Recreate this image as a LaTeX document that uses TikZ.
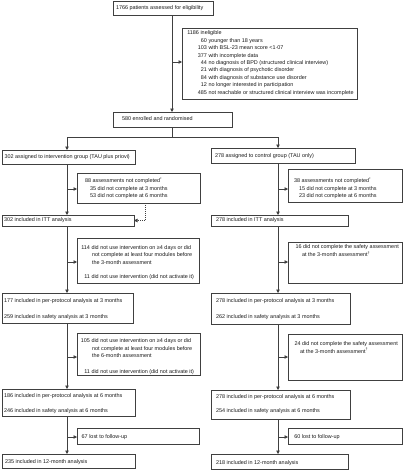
\documentclass[tikz,border=0pt]{standalone}
\usepackage{fontspec}
\setmainfont{Liberation Sans}
\usetikzlibrary{arrows.meta}
\newcommand\flowbox[6]{\node[fbox] (#1) at (#2,#3) {\parbox[c][\dimexpr #5pt-#3pt\relax][t]{\dimexpr #4pt-#2pt\relax}{\raggedright #6}};}
\newcommand\tp[1]{\rule{0pt}{#1pt}}
\newcommand\ind[1]{\hspace*{#1pt}}
\newcommand\num[2]{\makebox[#1pt][r]{#2}}
\begin{document}
\begin{tikzpicture}[x=1pt,y=-1pt,
  fbox/.style={draw=black!75, line width=0.7pt, anchor=north west, inner sep=0pt, outer sep=0pt,
    font=\fontsize{5.45pt}{7.4pt}\selectfont, text=black!90},
  ln/.style={draw=black!75, line width=0.7pt},
  arr/.style={ln, -{Triangle[length=3.5pt,width=3.5pt]}},
  dotarr/.style={arr, dash pattern=on 1pt off 1pt}]
\useasboundingbox (0,0) rectangle (403,471);

\flowbox{elig}{113}{1.5}{213}{15}{\tp{8.4}\ind{3}1766 patients assessed for eligibility}
\flowbox{inel}{182}{28}{357}{99}{\tp{6.9}\ind{5.3}1186 ineligible\\
\num{25}{60} younger than 18 years\\
\num{25}{103} with BSL-23 mean score <1·07\\
\num{25}{377} with incomplete data\\
\num{25}{44} no diagnosis of BPD (structured clinical interview)\\
\num{25}{21} with diagnosis of psychotic disorder\\
\num{25}{84} with diagnosis of substance use disorder\\
\num{25}{12} no longer interested in participation\\
\num{25}{485} not reachable or structured clinical interview was incomplete}
\flowbox{enr}{113}{112}{232}{127}{\tp{8.6}\ind{9}580 enrolled and randomised}
\flowbox{int}{2}{150}{135}{164}{\tp{8.3}\ind{2.5}302 assigned to intervention group (TAU plus priovi)}
\flowbox{ctl}{211}{148}{355}{163}{\tp{9.6}\ind{4}278 assigned to control group (TAU only)}
\flowbox{a88}{77}{173}{200}{203}{\tp{9.6}\ind{8}88 assessments not completed\textsuperscript{*}\\
\ind{13}35 did not complete at 3 months\\
\ind{13}53 did not complete at 6 months}
\flowbox{a38}{288}{169}{402}{202}{\tp{13.6}\ind{6}38 assessments not completed\textsuperscript{*}\\
\ind{11}15 did not complete at 3 months\\
\ind{11}23 did not complete at 6 months}
\flowbox{ittL}{2}{215}{134}{226}{\tp{6.9}\ind{2}302 included in ITT analysis}
\flowbox{ittR}{211}{215}{348}{226}{\tp{6.6}\ind{5}278 included in ITT analysis}
\flowbox{b114}{77}{238}{199}{283}{\tp{11.3}\ind{4}\num{9}{114} did not use intervention on ≥4 days or did\\
\ind{15}not complete at least four modules before\\
\ind{15}the 3-month assessment\\[7.4pt]
\ind{4}\num{9}{11} did not use intervention (did not activate it)}
\flowbox{b16}{288}{242}{402}{283}{\tp{6.9}\ind{7.5}16 did not complete the safety assessment\\
\ind{14}at the 3-month assessment\textsuperscript{†}}
\flowbox{pp3L}{2}{293}{133}{323}{\tp{9.3}\ind{2}177 included in per-protocol analysis at 3 months\\[9.2pt]
\ind{2}259 included in safety analysis at 3 months}
\flowbox{pp3R}{211}{293}{350}{324}{\tp{9.3}\ind{5}278 included in per-protocol analysis at 3 months\\[9.2pt]
\ind{5}262 included in safety analysis at 3 months}
\flowbox{b105}{77}{333}{200}{375}{\tp{9.3}\ind{4}\num{9}{105} did not use intervention on ≥4 days or did\\[0.4pt]
\ind{15}not complete at least four modules before\\[0.4pt]
\ind{15}the 6-month assessment\\[7.8pt]
\ind{4}\num{9}{11} did not use intervention (did not activate it)}
\flowbox{b24}{288}{334}{402}{380}{\tp{11.6}\ind{6.5}24 did not complete the safety assessment\\
\ind{12}at the 3-month assessment\textsuperscript{†}}
\flowbox{pp6L}{2}{389}{135}{416}{\tp{8.6}\ind{2}186 included in per-protocol analysis at 6 months\\[7.6pt]
\ind{2}246 included in safety analysis at 6 months}
\flowbox{pp6R}{211}{390}{350}{419}{\tp{8.3}\ind{5}278 included in per-protocol analysis at 6 months\\[6.9pt]
\ind{5}254 included in safety analysis at 6 months}
\flowbox{l67}{77}{428}{199}{444}{\tp{10.9}\ind{4.7}67 lost to follow-up}
\flowbox{l60}{288}{428}{402}{444}{\tp{10.6}\ind{6.3}60 lost to follow-up}
\flowbox{f12L}{2}{454}{135}{468}{\tp{9.9}\ind{3}235 included in 12-month analysis}
\flowbox{f12R}{211}{454}{348}{469}{\tp{10.3}\ind{5}218 included in 12-month analysis}

\coordinate (colM) at (172,0);
\coordinate (colL) at (67,0);
\coordinate (colR) at (278,0);
\coordinate (colD) at (145,0);
\coordinate (split) at (172,137);
\coordinate (jInel) at (172,62);
\coordinate (jL1) at (67,189);
\coordinate (jL2) at (67,262);
\coordinate (jL3) at (67,357);
\coordinate (jL4) at (67,437);
\coordinate (jR1) at (278,189);
\coordinate (jR2) at (278,262);
\coordinate (jR3) at (278,357);
\coordinate (jR4) at (278,437);

\draw[arr] (elig.south -| colM) -- (enr.north -| colM);
\draw[arr] (jInel) -- (jInel -| inel.west);
\draw[ln] (enr.south -| colM) -- (split);
\draw[arr] (split) -| (int.north -| colL);
\draw[arr] (split) -| (ctl.north -| colR);

\draw[arr] (int.south -| colL) -- (ittL.north -| colL);
\draw[arr] (jL1) -- (jL1 -| a88.west);
\draw[dotarr] (a88.south -| colD) |- (ittL.east);
\draw[arr] (ittL.south -| colL) -- (pp3L.north -| colL);
\draw[arr] (jL2) -- (jL2 -| b114.west);
\draw[arr] (pp3L.south -| colL) -- (pp6L.north -| colL);
\draw[arr] (jL3) -- (jL3 -| b105.west);
\draw[arr] (pp6L.south -| colL) -- (f12L.north -| colL);
\draw[arr] (jL4) -- (jL4 -| l67.west);

\draw[arr] (ctl.south -| colR) -- (ittR.north -| colR);
\draw[arr] (jR1) -- (jR1 -| a38.west);
\draw[arr] (ittR.south -| colR) -- (pp3R.north -| colR);
\draw[arr] (jR2) -- (jR2 -| b16.west);
\draw[arr] (pp3R.south -| colR) -- (pp6R.north -| colR);
\draw[arr] (jR3) -- (jR3 -| b24.west);
\draw[arr] (pp6R.south -| colR) -- (f12R.north -| colR);
\draw[arr] (jR4) -- (jR4 -| l60.west);
\end{tikzpicture}
\end{document}
